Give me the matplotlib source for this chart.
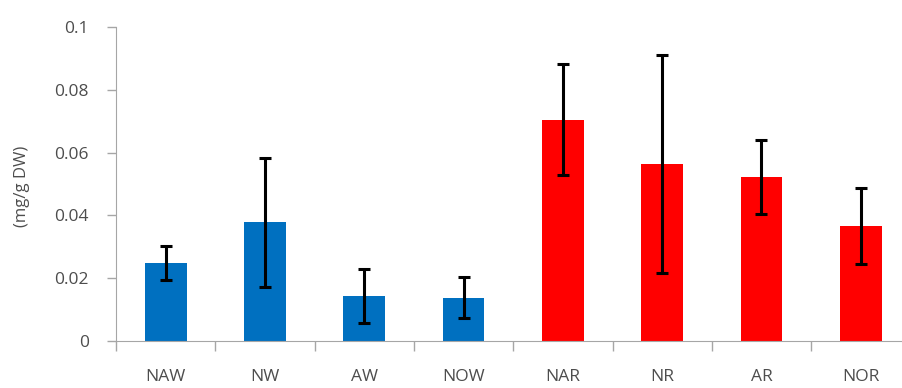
import matplotlib.pyplot as plt
import numpy as np

categories = ['NAW', 'NW', 'AW', 'NOW', 'NAR', 'NR', 'AR', 'NOR']
means = [0.0248, 0.0378, 0.0144, 0.0138, 0.0705, 0.0565, 0.0522, 0.0367]
errors = [0.0055, 0.0205, 0.0087, 0.0065, 0.0177, 0.0347, 0.0118, 0.0122]
colors = ['#0070C0'] * 4 + ['#FF0000'] * 4

plt.rcParams['font.family'] = ['Open Sans', 'DejaVu Sans']

fig = plt.figure(figsize=(9.03, 3.88), dpi=100)
ax = fig.add_axes([0.1285, 0.121, 0.8715, 0.809])

x = np.arange(len(categories))
ax.bar(x, means, width=0.42, color=colors, zorder=2)
ax.errorbar(x, means, yerr=errors, fmt='none', ecolor='black',
            elinewidth=2.2, capsize=4.3, capthick=2.2, zorder=3)

ax.set_xlim(-0.5, 7.425)
ax.set_ylim(0, 0.1)
ax.set_yticks([0, 0.02, 0.04, 0.06, 0.08, 0.1])
ax.set_yticklabels(['0', '0.02', '0.04', '0.06', '0.08', '0.1'])

# category labels centred, tick marks at the boundaries
ax.set_xticks(x)
ax.set_xticklabels(categories)
ax.tick_params(axis='x', which='major', length=0, pad=20)
ax.set_xticks(np.arange(-0.5, 7.5, 1.0), minor=True)
ax.tick_params(axis='x', which='minor', length=7, color='#A6A6A6', width=1)
ax.tick_params(axis='y', length=6.5, color='#A6A6A6', width=1, pad=13)
ax.tick_params(labelsize=12.5, labelcolor='#4D4D4D')

for s in ['top', 'right']:
    ax.spines[s].set_visible(False)
for s in ['left', 'bottom']:
    ax.spines[s].set_color('#A6A6A6')

fig.text(0.024, 0.52, '(mg/g DW)', rotation=90, va='center', ha='center',
         fontsize=12, color='#4D4D4D')

fig.savefig('out.png', dpi=100)
